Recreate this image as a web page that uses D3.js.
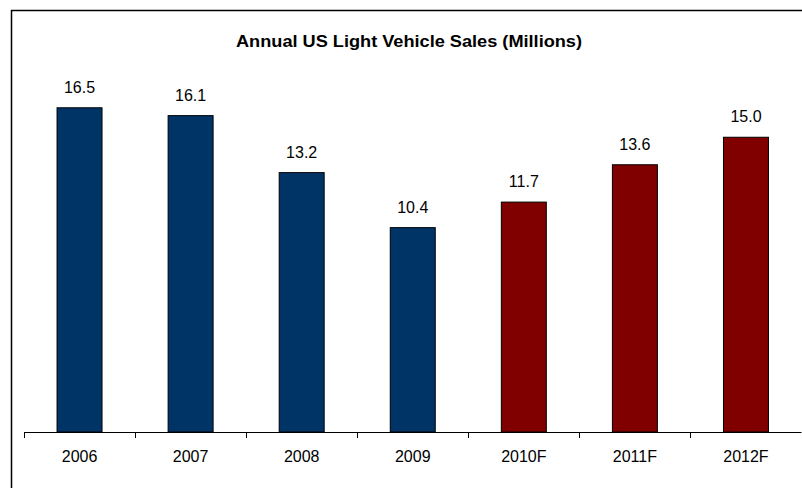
<!DOCTYPE html>
<html>
<head>
<meta charset="utf-8">
<script src="https://cdn.jsdelivr.net/npm/d3@7"></script>
<style>
  body { margin: 0; background: #fff; }
  text { font-family: "Liberation Sans", Arial, sans-serif; fill: #000; }
</style>
</head>
<body>
<svg id="chart"></svg>
<script>
const years = ["2006", "2007", "2008", "2009", "2010F", "2011F", "2012F"];
const sales = [16.5, 16.1, 13.2, 10.4, 11.7, 13.6, 15.0];
const forecast = [false, false, false, false, true, true, true];

const width = 802;
const height = 488;

const svg = d3.select("#chart")
	.attr("width", width)
	.attr("height", height);

// chart frame (runs off the right / bottom edges)
svg.append("rect")
	.attr("x", 11.5)
	.attr("y", 10.5)
	.attr("width", 800)
	.attr("height", 490)
	.attr("fill", "none")
	.attr("stroke", "#000")
	.attr("stroke-width", 1.5);

svg.append("text")
	.attr("x", 409)
	.attr("y", 47)
	.attr("text-anchor", "middle")
	.attr("font-size", 16)
	.attr("font-weight", "bold")
	.attr("textLength", 346)
	.attr("lengthAdjust", "spacingAndGlyphs")
	.text("Annual US Light Vehicle Sales (Millions)");

const x = d3.scaleBand()
	.domain(years)
	.range([24, 801.5]);

const y = d3.scaleLinear()
	.domain([0, 20])
	.range([432, 39]);

const barW = x.bandwidth() * 0.405;

const g = svg.append("g");

g.selectAll("rect.bar")
	.data(years)
	.join("rect")
	.attr("class", "bar")
	.attr("x", d => x(d) + (x.bandwidth() - barW) / 2)
	.attr("y", (d, i) => y(sales[i]))
	.attr("width", barW)
	.attr("height", (d, i) => y(0) - y(sales[i]))
	.attr("fill", (d, i) => forecast[i] ? "#800000" : "#003366")
	.attr("stroke", "#000")
	.attr("stroke-width", 1);

g.selectAll("text.val")
	.data(years)
	.join("text")
	.attr("class", "val")
	.attr("x", d => x(d) + x.bandwidth() / 2)
	.attr("y", (d, i) => y(sales[i]) - 15)
	.attr("text-anchor", "middle")
	.attr("font-size", 16)
	.text((d, i) => sales[i].toFixed(1));

// category axis with ticks between categories
const axis = svg.append("g");

axis.append("line")
	.attr("x1", 24)
	.attr("x2", 801.5)
	.attr("y1", y(0) + 0.5)
	.attr("y2", y(0) + 0.5)
	.attr("stroke", "#000");

const edges = years.map(d => x(d)).concat([x(years[years.length - 1]) + x.bandwidth()]);

axis.selectAll("line.tick")
	.data(edges)
	.join("line")
	.attr("class", "tick")
	.attr("x1", d => Math.round(d) + 0.5)
	.attr("x2", d => Math.round(d) + 0.5)
	.attr("y1", y(0))
	.attr("y2", y(0) + 6)
	.attr("stroke", "#000");

axis.selectAll("text.lbl")
	.data(years)
	.join("text")
	.attr("class", "lbl")
	.attr("x", d => x(d) + x.bandwidth() / 2)
	.attr("y", 462)
	.attr("text-anchor", "middle")
	.attr("font-size", 16)
	.text(d => d);
</script>
</body>
</html>
